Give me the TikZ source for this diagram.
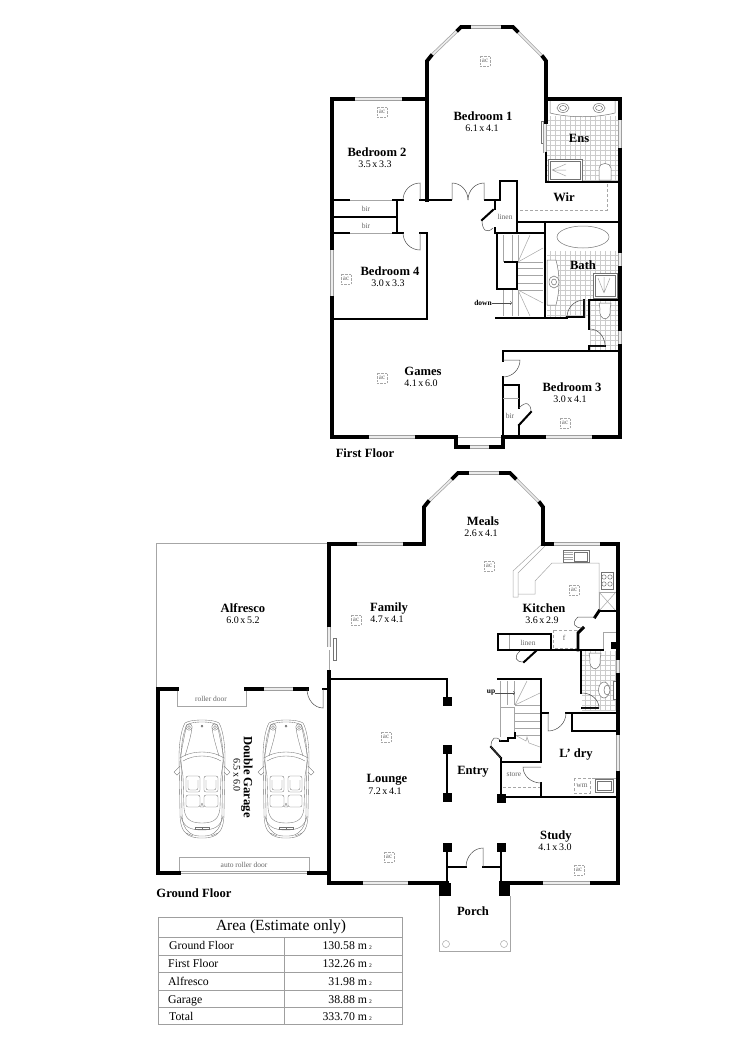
\documentclass[tikz,border=0pt]{standalone}
\usepackage{fontspec}
\setmainfont{Liberation Serif}
\usepackage{tikz}
\usetikzlibrary{calc}

\tikzset{
    outerwall/.style={line width=3.8pt,line cap=rect},
    wall/.style={line width=2.9pt,line cap=rect},
    wallthin/.style={line width=2pt,line cap=rect},
    winline/.style={draw=gray!75,line width=.7pt,double=gray!15,double distance=1.7pt},
    doorline/.style={draw=black!70,line width=.5pt},
    fixture/.style={draw=black!55,line width=.5pt,fill=white},
    fineline/.style={draw=gray!70,line width=.5pt},
    tileline/.style={draw=gray!40,line width=.3pt},
    hanger/.style={draw=gray!70,line width=.6pt,dash pattern=on 3pt off 2pt},
    roomname/.style={inner sep=0pt,text height=10.9pt,text depth=2.5pt,font=\fontsize{12.6}{14}\selectfont\bfseries},
    roomsize/.style={inner sep=0pt,font=\fontsize{10}{12}\selectfont},
    minor/.style={inner sep=0pt,text=black!60,font=\fontsize{7.5}{9}\selectfont},
    stairword/.style={inner sep=0pt,font=\fontsize{7.5}{9}\selectfont\bfseries},
    acbox/.style={draw=gray!70,line width=.5pt,dash pattern=on 2.5pt off 1pt,inner sep=0pt,minimum size=10.5pt,text=black!60,font=\fontsize{7}{8}\selectfont},
    tablerow/.style={inner sep=0pt,text height=10.2pt,text depth=2.4pt,font=\fontsize{11.8}{14}\selectfont},
    pics/carsketch/.style={code={
        \foreach \s in {-1,1} {
            \begin{scope}[xscale=\s,draw=black!55,line width=.35pt]
                \draw (0,0) .. controls (-8,0) and (-14,1) .. (-17,3) .. controls (-21,10) and (-23,24) .. (-23,37) -- (-22,93) .. controls (-22,104) and (-20,111) .. (-14,115) .. controls (-9,118) and (-4,118) .. (0,118);
                \draw (0,2) .. controls (-8,2) and (-12,3) .. (-15,5) .. controls (-19,12) and (-21,26) .. (-21,38) -- (-20,92) .. controls (-20,102) and (-18,109) .. (-12,113) .. controls (-8,116) and (-4,116) .. (0,116);
                \draw (-16,8) .. controls (-18,18) and (-20,28) .. (-22,38);
                \draw (-10,8) .. controls (-11,16) and (-14,26) .. (-17,36);
                \draw (-13,7) circle[radius=3.2];
                \draw (-13,7) circle[radius=1.5];
                \draw (-22,38) .. controls (-14,33) and (-6,32) .. (0,32);
                \draw (-19,41) .. controls (-12,37) and (-6,36) .. (0,36);
                \draw (-22,38) -- (-19,56) -- (-18,88);
                \draw (-22,46) -- (-28,52) -- (-25,55) -- (-22,52);
                \draw[rounded corners=2pt] (-16,56) rectangle (-2,72);
                \draw[rounded corners=2pt] (-14,60) -- (-14,70) -- (-4,70) -- (-4,60);
                \draw[rounded corners=2pt] (-16,75) rectangle (-2,87);
                \draw (-18,88) .. controls (-17,98) and (-13,103) .. (0,103);
                \draw (-21,96) .. controls (-19,106) and (-13,110) .. (0,110);
                \draw (-7,107) rectangle (0,109.5);
                \draw (-16,113) -- (-9,116);
                \draw (0,83) -- (-1.5,87) -- (0,87);
                \draw (0,6) circle[radius=1];
            \end{scope}
        }
    }},
}

\begin{document}
\begin{tikzpicture}[x=1pt,y=-1pt]
    \useasboundingbox (0,0) rectangle (750,1061);

    % tiles
    \draw[tileline] (547,180) grid[step=5pt] (618,116);
    \draw[tileline] (547,318) grid[step=5pt] (618,251);
    \draw[tileline] (590,350) grid[step=5pt] (618,300);
    \draw[tileline] (582,711) grid[step=5pt] (617,651);

    % fixtures first floor
    \draw[fixture] (550,101) -- (550,113) .. controls (570,118) and (595,118) .. (615,113) -- (615,101);
    \draw[fixture] (563,108) ellipse[x radius=6,y radius=4.5];
    \draw[fixture] (599,108) ellipse[x radius=6,y radius=4.5];
    \draw[fixture] (563,108) ellipse[x radius=3.5,y radius=2.5];
    \draw[fixture] (599,108) ellipse[x radius=3.5,y radius=2.5];
    \draw[fixture] (548,159) rectangle (582,181);
    \draw[fixture] (550,161) rectangle (580,179);
    \draw[fineline] (552,170) -- (566,164) (552,170) -- (566,170) (552,170) -- (566,176);
    \draw[fixture] (599,180) -- (599,168) .. controls (599,162) and (611,162) .. (611,168) -- (611,180) -- cycle;
    \draw[hanger] (520,210) -- (607,210) -- (607,184);
    \draw[fixture] (583,237) ellipse[x radius=26,y radius=11];
    \draw[fixture] (547,260) -- (556,260) .. controls (560,275) and (560,290) .. (556,305) -- (547,305) -- cycle;
    \draw[fixture] (554,282) ellipse[x radius=5,y radius=6];
    \draw[fixture] (554,282) ellipse[x radius=2.5,y radius=3];
    \draw[fixture] (593,273) rectangle (617,298);
    \draw[fixture] (595,275) rectangle (615,296);
    \draw[fineline] (604,293) -- (598,278) (604,293) -- (604,277) (604,293) -- (610,278);
    \draw[fixture] (599,303) -- (611,303) -- (610,309) .. controls (612,322) and (598,322) .. (600,309) -- cycle;

    % stairs first floor
    \foreach \tx in {503,512,518} {
        \draw[fineline] (\tx,235) -- (\tx,262);
        \draw[fineline] (\tx,290) -- (\tx,316);
    }
    \foreach \ty in {262,268,275,283,290} {
        \draw[fineline] (518,\ty) -- (543,\ty);
    }
    \draw[fineline] (518,262) -- (530,235) (518,262) -- (543,248);
    \draw[fineline] (518,290) -- (543,303) (518,290) -- (530,316);

    % fixtures ground floor
    \draw[fineline] (542,544) -- (513,571) -- (513,597) -- (518,597) -- (518,573) -- (545,546);
    \draw[fineline] (518,594) -- (535,594) -- (535,581) -- (552,563) -- (599,563) -- (599,611);
    \draw[fixture] (563,550) rectangle (589,562);
    \draw[fixture] (574,552) rectangle (587,561);
    \foreach \ty in {552,554.5,557,559.5} {
        \draw[fineline] (564,\ty) -- (573,\ty);
    }
    \draw[fixture] (601,572) rectangle (613,589);
    \foreach \hx/\hy in {604/577,610/577,604/584,610/584} {
        \draw[fixture] (\hx,\hy) circle[radius=2.2];
    }
    \draw[fineline] (599,592) rectangle (616,611);
    \draw[fineline] (599,592) -- (616,611) (616,592) -- (599,611);
    \draw[hanger] (553,630) rectangle (577,648);
    \draw[fineline] (603,650) -- (603,632) -- (616,632);
    \draw[fineline] (509,634) -- (509,650);
    \draw[fixture] (604,690) ellipse[x radius=5.5,y radius=8];
    \draw[fixture] (607,690) ellipse[x radius=3,y radius=5];
    \draw[fixture] (613,681) rectangle (617,699);
    \draw[fixture] (589,653) -- (601,653) -- (600,659) .. controls (602,672) and (588,672) .. (590,659) -- cycle;
    \draw[hanger] (574,778) rectangle (590,793);
    \draw[fineline] (592,778) -- (617,778);
    \draw[fixture] (595,779) rectangle (613,792);
    \draw[fixture] (597,781) rectangle (611,790);
    \draw[hanger] (503,787) -- (540,787);

    % stairs ground floor
    \foreach \tx in {507,514} {
        \draw[fineline] (\tx,681) -- (\tx,705);
    }
    \foreach \ty in {705,713,721,728,735} {
        \draw[fineline] (515,\ty) -- (540,\ty);
    }
    \draw[fineline] (515,705) -- (527,681) (515,705) -- (540,693);
    \draw[fineline] (500,681) -- (500,737) (500,707) -- (514,707) -- (514,733);
    \draw[fineline] (515,735) -- (526,741) -- (527,737) -- (529,743) -- (540,747);

    % outdoor outlines
    \draw[fineline] (156,689) -- (156,543) -- (329,543);
    \draw[fineline] (439,896) -- (439,951) -- (510,951) -- (510,896);
    \draw[fineline] (446,944) circle[radius=3.5];
    \draw[fineline] (504,944) circle[radius=3.5];
    \draw[fineline] (329,650) -- (329,672);
    \draw[fixture] (333,638) rectangle (336,660);
    \draw[fixture] (541,121) rectangle (543,143);
    \draw[fineline] (458,437) -- (502,437);

    % garage doors and cars
    \draw[fineline] (177,689) -- (177,706) -- (246,706) -- (246,689);
    \draw[fineline] (179,873) -- (179,857) -- (309,857) -- (309,873);
    \draw[fineline] (179,871) -- (309,871) (179,873) -- (309,873);
    \pic at (202,720) {carsketch};
    \pic at (286,720) {carsketch};

    % windows
    \foreach \ax/\ay/\bx/\by in {
        431/56/458/30, 469/27/503/27, 517/31/543/57, 353/99/404/99, 620/118/620/150, 545/122/545/153,
        620/251/620/268, 620/329/620/346, 332/248/332/298, 367/437/417/437, 468/447/491/447, 544/437/594/437,
        428/502/453/478, 467/473/501/473, 515/478/540/503, 355/544/405/544, 552/544/602/544, 329/625/329/647,
        618/658/618/675, 618/733/618/773, 262/689/295/689, 361/883/410/883, 541/883/592/883} {
        \draw[winline] (\ax,\ay) -- (\bx,\by);
    }

    % walls first floor
    \draw[outerwall] (427,200) -- (427,61) -- (431,56);
    \draw[outerwall] (458,30) -- (461,27) -- (469,27);
    \draw[outerwall] (503,27) -- (513,27) -- (517,31);
    \draw[outerwall] (543,57) -- (546,61) -- (546,122);
    \draw[outerwall] (546,99) -- (620,99) -- (620,118);
    \draw[wall] (546,153) -- (546,182) -- (620,182);
    \draw[outerwall] (620,150) -- (620,251);
    \draw[outerwall] (620,268) -- (620,329);
    \draw[outerwall] (620,346) -- (620,437) -- (594,437);
    \draw[wall] (518,222) -- (620,222);
    \draw[wall] (500,200) -- (500,181) -- (517,181) -- (517,233);
    \draw[wall] (495,200) -- (495,209);
    \draw[wall] (495,228) -- (495,233) -- (545,233);
    \draw[wall] (545,222) -- (545,318);
    \draw[outerwall] (332,437) -- (332,298);
    \draw[outerwall] (332,248) -- (332,99) -- (353,99);
    \draw[outerwall] (404,99) -- (427,99);
    \draw[wall] (332,200) -- (349,200);
    \draw[wall] (393,200) -- (403,200);
    \draw[wall] (420,200) -- (451,200);
    \draw[wall] (485,200) -- (500,200);
    \draw[wall] (397,200) -- (397,233);
    \draw[wallthin] (332,217) -- (397,217);
    \draw[wall] (332,233) -- (349,233);
    \draw[wall] (393,233) -- (403,233);
    \draw[wall] (420,233) -- (427,233) -- (427,319) -- (332,319);
    \draw[wall] (497,233) -- (497,289) -- (517,289) -- (517,262) -- (505,262);
    \draw[wall] (496,318) -- (567,318);
    \draw[wallthin] (584,300) -- (584,317) -- (567,317);
    \draw[wall] (589,300) -- (620,300);
    \draw[wall] (589,300) -- (589,329);
    \draw[wallthin] (590,346) -- (605,346);
    \draw[wall] (589,346) -- (589,351);
    \draw[wall] (503,361) -- (503,351) -- (620,351);
    \draw[wall] (503,377) -- (503,437);
    \draw[wall] (503,385) -- (519,385) -- (519,408);
    \draw[wall] (519,425) -- (519,437);
    \draw[outerwall] (332,437) -- (367,437);
    \draw[outerwall] (417,437) -- (456,437) -- (456,447) -- (468,447);
    \draw[outerwall] (491,447) -- (503,447) -- (503,437) -- (544,437);
    \draw[fineline] (503,398) -- (519,398);
    \draw[fineline] (350,200) -- (392,200) (350,233) -- (392,233);

    % walls ground floor
    \draw[outerwall] (329,625) -- (329,544) -- (355,544);
    \draw[outerwall] (405,544) -- (424,544) -- (424,507) -- (428,502);
    \draw[outerwall] (453,478) -- (458,473) -- (467,473);
    \draw[outerwall] (501,473) -- (510,473) -- (515,478);
    \draw[outerwall] (540,503) -- (543,507) -- (543,544) -- (552,544);
    \draw[outerwall] (602,544) -- (618,544) -- (618,658);
    \draw[outerwall] (618,675) -- (618,733);
    \draw[outerwall] (618,773) -- (618,883) -- (592,883);
    \draw[wallthin] (599,611) -- (618,611);
    \draw[wall] (599,611) -- (595,617);
    \draw[wall] (583,628) -- (578,633) -- (578,650);
    \draw[wall] (498,634) -- (551,634) -- (551,650) -- (498,650) -- cycle;
    \draw[wallthin] (551,650) -- (603,650);
    \draw[wall] (581,650) -- (581,693);
    \draw[wallthin] (582,708) -- (598,708);
    \draw[wall] (541,680) -- (541,762);
    \draw[wall] (498,679) -- (541,679);
    \draw[wall] (541,713) -- (548,713);
    \draw[wall] (566,713) -- (618,713);
    \draw[wall] (572,713) -- (572,730);
    \draw[wallthin] (572,731) -- (618,731);
    \draw[wallthin] (500,741) -- (508,741) -- (508,738) -- (515,738) -- (515,733);
    \draw[wallthin] (491,747) -- (501,758);
    \draw[wall] (501,758) -- (501,797);
    \draw[wall] (501,762) -- (541,762);
    \draw[wall] (541,783) -- (541,797);
    \draw[wall] (498,797) -- (618,797);
    \draw[outerwall] (329,672) -- (329,883) -- (361,883);
    \draw[wall] (329,679) -- (447,679) -- (447,700);
    \draw[wall] (447,749) -- (447,797);
    \draw[wall] (447,846) -- (447,890);
    \draw[wall] (501,846) -- (501,890);
    \draw[outerwall] (410,883) -- (447,883);
    \draw[outerwall] (501,883) -- (541,883);
    \draw[wall] (447,867) -- (466,867);
    \draw[wall] (483,867) -- (501,867);
    \draw[outerwall] (177,689) -- (158,689) -- (158,873) -- (179,873);
    \draw[outerwall] (246,689) -- (262,689);
    \draw[outerwall] (295,689) -- (307,689);
    \draw[wallthin] (323,689) -- (329,689);
    \draw[outerwall] (309,873) -- (329,873);
    \foreach \cx/\cy in {447/701, 447/749, 447/797, 447/847, 501/847, 501.5/798} {
        \fill (\cx-4.5,\cy-4.5) rectangle (\cx+4.5,\cy+4.5);
    }
    \fill (439,883) rectangle (451,896);
    \fill (499,883) rectangle (510,896);
    \fill (610.5,642) rectangle (616.5,649);

    % door swings
    \foreach \hx/\hy/\tx/\ty/\jx/\jy in {
        420/200/420/183/403/200, 452/200/452/183/468/200, 484/200/484/183/468/200, 493/209/482/220/493/228,
        420/233/420/250/403/233, 584/317/584/300/567/317, 590/346/605/346/590/329, 503/360/520/360/503/377,
        519/425/531/412/519/408, 536/651/524/662/520/651, 595/617/578/617/583/628, 582/708/599/708/582/693,
        548/713/548/731/566/713, 541/767/523/767/541/783, 501/758/491/747/501/741, 483/867/483/848/466/867,
        323/689/323/708/307/689} {
        \draw[doorline] (\hx,\hy) -- (\tx,\ty) .. controls ($(\tx,\ty)+.55*(\jx,\jy)-.55*(\hx,\hy)$) and ($(\jx,\jy)+.55*(\tx,\ty)-.55*(\hx,\hy)$) .. (\jx,\jy);
    }
    \draw[wallthin] (493,210) -- (482,220);
    \draw[wallthin] (519,425) -- (531,412);
    \draw[wallthin] (536,651) -- (524,662);

    % ac units
    \foreach \acname/\ax/\ay in {acone/485/61, actwo/382/112, acfour/346/279, acgames/382/378, acthree/565/423,
        acmeals/489/566, ackitchen/574/590, acfamily/356/620, aclounge/386/737, acfront/389/857, acstudy/579/870} {
        \node[acbox,fill=white] (\acname) at (\ax,\ay) {ac};
    }

    % stair arrows
    \node[stairword] (downword) at (483,303) {down};
    \coordinate (downend) at (512,303);
    \draw[->,doorline] (downword) -- (downend);
    \node[stairword] (upword) at (491,693) {up};
    \coordinate (upend) at (515,693);
    \draw[->,doorline] (upword) -- (upend);

    % room labels
    \node[roomname] (bedonename) at (483,116) {Bedroom 1};
    \node[roomsize] (bedonesize) at (482,128) {6.1\,x\,4.1};
    \node[roomname] (ensname) at (579,138) {Ens};
    \node[roomname] (wirname) at (564,197) {Wir};
    \node[roomname] (bedtwoname) at (377,152) {Bedroom 2};
    \node[roomsize] (bedtwosize) at (375,164) {3.5\,x\,3.3};
    \node[roomname] (bedfourname) at (390,271) {Bedroom 4};
    \node[roomsize] (bedfoursize) at (388,283) {3.0\,x\,3.3};
    \node[roomname] (bathname) at (583,265) {Bath};
    \node[roomname] (gamesname) at (423,371) {Games};
    \node[roomsize] (gamessize) at (421,383) {4.1\,x\,6.0};
    \node[roomname] (bedthreename) at (572,387) {Bedroom 3};
    \node[roomsize] (bedthreesize) at (570,399) {3.0\,x\,4.1};
    \node[roomname] (firstname) at (365,453) {First Floor};
    \node[minor] (firstbir) at (366,209) {bir};
    \node[minor] (secondbir) at (366,226) {bir};
    \node[minor] (thirdbir) at (510,416) {bir};
    \node[minor] (firstlinen) at (505,217) {linen};

    \node[roomname] (mealsname) at (483,521) {Meals};
    \node[roomsize] (mealssize) at (481,533) {2.6\,x\,4.1};
    \node[roomname] (alfresconame) at (243,608) {Alfresco};
    \node[roomsize] (alfrescosize) at (243,620) {6.0\,x\,5.2};
    \node[roomname] (familyname) at (389,607) {Family};
    \node[roomsize] (familysize) at (387,619) {4.7\,x\,4.1};
    \node[roomname] (kitchenname) at (544,608) {Kitchen};
    \node[roomsize] (kitchensize) at (542,620) {3.6\,x\,2.9};
    \node[roomname] (loungename) at (387,778) {Lounge};
    \node[roomsize] (loungesize) at (385,791) {7.2\,x\,4.1};
    \node[roomname] (entryname) at (473,770) {Entry};
    \node[roomname] (laundryname) at (576,753) {L' dry};
    \node[roomname] (studyname) at (556,835) {Study};
    \node[roomsize] (studysize) at (555,847) {4.1\,x\,3.0};
    \node[roomname] (porchname) at (473,911) {Porch};
    \node[roomname,rotate=-90] (garagename) at (248,777) {Double Garage};
    \node[roomsize,rotate=-90] (garagesize) at (237,775) {6.5\,x\,6.0};
    \node[roomname] (groundname) at (194,893) {Ground Floor};
    \node[minor] (secondlinen) at (528,643) {linen};
    \node[minor] (fridgeword) at (564,638) {f};
    \node[minor] (storeword) at (514,774) {store};
    \node[minor] (wmword) at (582,786) {wm};
    \node[minor] (rollerword) at (211,699) {roller door};
    \node[minor] (autoword) at (244,865) {auto roller door};

    % area table
    \draw[draw=gray!75,line width=.8pt] (158,917) rectangle (402,1024);
    \foreach \ry in {937,955,972,990,1007} {
        \draw[draw=gray!75,line width=.7pt] (158,\ry) -- (402,\ry);
    }
    \draw[draw=gray!75,line width=.7pt] (284,937) -- (284,1024);
    \node[inner sep=0pt,font=\fontsize{15.5}{17}\selectfont] (areatitle) at (281,927) {Area (Estimate only)};
    \foreach \rowname/\rowx/\rowy/\rowtext/\rowval in {
        rowground/169/946/Ground Floor/130.58,
        rowfirst/168/964/First Floor/132.26,
        rowalfresco/168/982/Alfresco/31.98,
        rowgarage/168/1000/Garage/38.88,
        rowtotal/169/1017/Total/333.70} {
        \node[tablerow,anchor=west] (\rowname) at (\rowx,\rowy) {\rowtext};
        \node[tablerow,anchor=east] (\rowname val) at (372,\rowy) {\rowval{} m\,{\fontsize{5.5}{6}\selectfont 2}};
    }
\end{tikzpicture}
\end{document}
